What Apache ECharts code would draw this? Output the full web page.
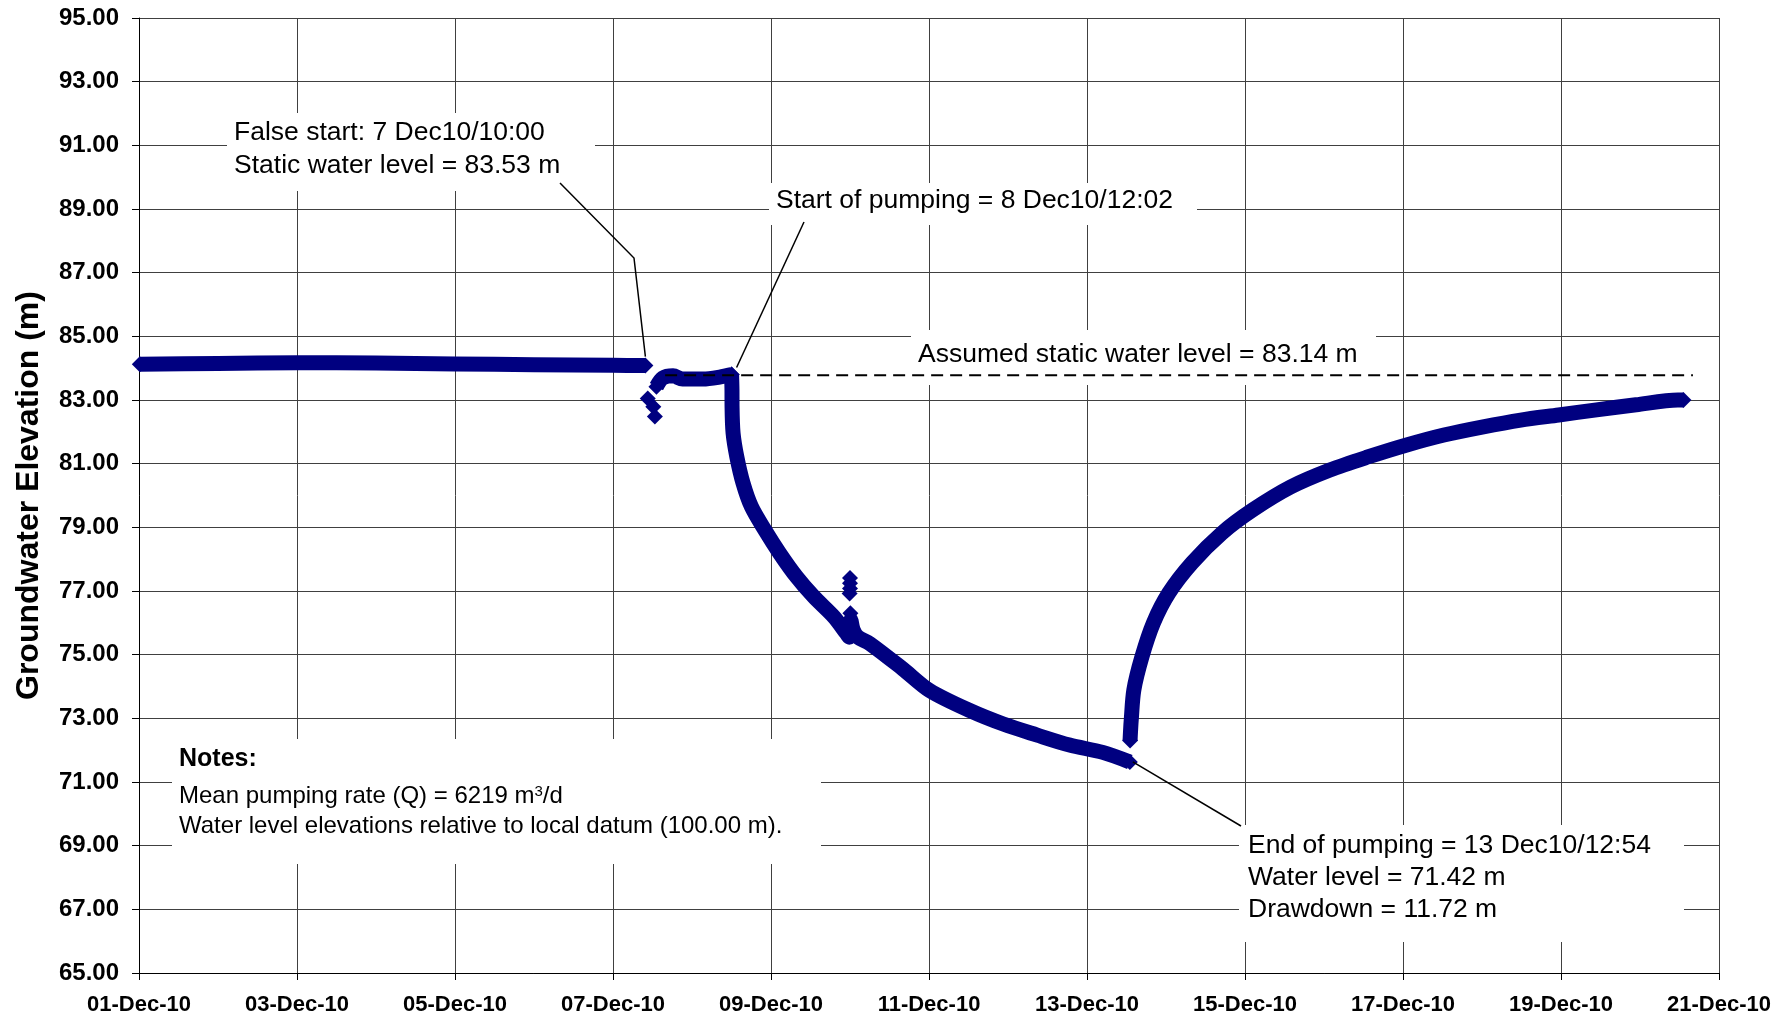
<!DOCTYPE html>
<html>
<head>
<meta charset="utf-8">
<title>Groundwater elevation - pumping test</title>
<script src="https://cdn.jsdelivr.net/npm/echarts@6/dist/echarts.min.js"></script>
<style>
  html, body { margin: 0; padding: 0; background: #fff; }
  #chart { width: 1791px; height: 1019px; }
</style>
</head>
<body>
<div id="chart"></div>
<script>
  // x = days since 01-Dec-10 00:00, y = groundwater elevation (m)
  const monthSuffix = '-Dec-10';
  const yRange = [65, 95, 2];
  const xRange = [0, 20, 2];

  // logger readings before the test
  const preTest = [
    [0.01, 84.12], [1, 84.15], [2, 84.17], [3, 84.16], [4, 84.13],
    [5, 84.11], [6, 84.09], [6.41, 84.08]
  ];
  // false start drop
  const falseStartDrop = [[6.44, 83.05], [6.51, 82.79], [6.53, 82.48]];
  // recovery before the real start
  const preRecovery = [
    [6.55, 83.42], [6.63, 83.69], [6.76, 83.76], [6.88, 83.66],
    [7.14, 83.66], [7.35, 83.72], [7.501, 83.8]
  ];
  // pumping period
  const pumping = [
    [7.501, 83.8], [7.504, 83.54], [7.506, 83.32], [7.507, 82.79],
    [7.52, 81.96], [7.567, 81.22], [7.646, 80.39], [7.752, 79.65],
    [7.921, 78.92], [8.111, 78.18], [8.322, 77.45], [8.541, 76.82],
    [8.795, 76.19], [8.955, 75.67], [8.99, 75.55], [9.01, 76.09],
    [9.04, 75.78], [9.1, 75.55], [9.25, 75.35], [9.67, 74.55],
    [10.01, 73.87], [10.52, 73.24], [10.94, 72.82], [11.36, 72.48],
    [11.78, 72.16], [12.2, 71.93], [12.542, 71.63]
  ];
  const pumpingSpikes = [[9.0, 77.41], [9.0, 77.24], [9.0, 77.08], [8.995, 76.92], [9.005, 76.3]];
  // recovery after pumping stopped
  const recovery = [
    [12.545, 72.3], [12.55, 72.55], [12.56, 72.95], [12.593, 73.89],
    [12.695, 74.93], [12.841, 76.0], [13.037, 76.94], [13.328, 77.88],
    [13.708, 78.82], [14.1, 79.55], [14.58, 80.27], [15.074, 80.8],
    [15.555, 81.21], [16.036, 81.58], [16.518, 81.9], [17.0, 82.15],
    [17.49, 82.37], [17.97, 82.53], [18.45, 82.69], [18.95, 82.85],
    [19.48, 83.0], [19.55, 83.0]
  ];
  const staticLine = [[6.66, 83.78], [19.67, 83.78]];

  const navy = '#000080';
  const font = '"Liberation Sans", Arial, sans-serif';

  // thick band of logger points; diamonds only at the ends of each run
  function band(name, data) {
    const last = data.length - 1;
    return {
      name: name,
      type: 'line',
      data: data,
      smooth: 0.3,
      symbol: 'diamond',
      symbolSize: (v, p) => (p.dataIndex === 0 || p.dataIndex === last ? 16 : 0),
      showAllSymbol: true,
      itemStyle: { color: navy },
      lineStyle: { color: navy, width: 15, cap: 'butt', join: 'round' },
      z: 3
    };
  }
  function dots(name, data) {
    return {
      name: name,
      type: 'scatter',
      data: data,
      symbol: 'diamond',
      symbolSize: 16,
      itemStyle: { color: navy, opacity: 1 },
      z: 3
    };
  }

  const chart = echarts.init(document.getElementById('chart'));

  const option = {
    animation: false,
    backgroundColor: '#fff',
    grid: { left: 139, right: 72, top: 18, bottom: 46 },
    xAxis: {
      type: 'value',
      min: xRange[0],
      max: xRange[1],
      interval: xRange[2],
      axisLine: { lineStyle: { color: '#000', width: 1 } },
      axisTick: { show: true, length: 7, lineStyle: { color: '#000' } },
      axisLabel: {
        margin: 21,
        color: '#000',
        fontFamily: font,
        fontWeight: 'bold',
        fontSize: 22,
        formatter: (v) => String(v + 1).padStart(2, '0') + monthSuffix
      },
      splitLine: { show: true, lineStyle: { color: '#404040', width: 1 } }
    },
    yAxis: {
      type: 'value',
      min: yRange[0],
      max: yRange[1],
      interval: yRange[2],
      name: 'Groundwater Elevation (m)',
      nameLocation: 'middle',
      nameGap: 94,
      nameTextStyle: { color: '#000', fontFamily: font, fontWeight: 'bold', fontSize: 32 },
      axisLine: { show: true, lineStyle: { color: '#000', width: 1 } },
      axisTick: { show: true, length: 7, lineStyle: { color: '#000' } },
      axisLabel: {
        margin: 20,
        color: '#000',
        fontFamily: font,
        fontWeight: 'bold',
        fontSize: 24,
        formatter: (v) => v.toFixed(2)
      },
      splitLine: { show: true, lineStyle: { color: '#404040', width: 1 } }
    },
    series: [
      band('preTest', preTest),
      dots('falseStartDrop', falseStartDrop),
      band('preRecovery', preRecovery),
      band('pumping', pumping),
      dots('pumpingSpikes', pumpingSpikes),
      band('recovery', recovery),
      {
        name: 'static',
        type: 'line',
        data: staticLine,
        symbol: 'none',
        lineStyle: { color: '#000', width: 2, type: [12, 7] },
        z: 4
      }
    ]
  };
  chart.setOption(option);

  // annotation boxes and leader lines
  const px = (pt) => chart.convertToPixel({ gridIndex: 0 }, pt);
  const falseEnd = px(preTest[preTest.length - 1]);
  const pumpStart = px(pumping[0]);
  const pumpEnd = px(pumping[pumping.length - 1]);

  const box = (x, y, w, h) => ({
    type: 'rect', z: 1, shape: { x: x, y: y, width: w, height: h },
    style: { fill: '#fff' }
  });
  const txt = (x, y, s, size, weight) => ({
    type: 'text', z: 10, x: x, y: y,
    style: {
      text: s, fill: '#000', fontFamily: font, fontSize: size,
      fontWeight: weight || 'normal', verticalAlign: 'middle'
    }
  });
  const leader = (points) => ({
    type: 'polyline', z: 10, shape: { points: points },
    style: { stroke: '#000', lineWidth: 1.5, fill: null }
  });

  chart.setOption({
    graphic: [
      box(227, 113, 368, 78),
      txt(234, 133, 'False start: 7 Dec10/10:00', 26.5),
      txt(234, 166, 'Static water level = 83.53 m', 26.5),
      leader([[560, 183], [634, 258], [falseEnd[0], falseEnd[1] - 9]]),

      box(769, 183, 428, 42),
      txt(776, 201, 'Start of pumping = 8 Dec10/12:02', 26.5),
      leader([[804, 222], [pumpStart[0] + 5, pumpStart[1] - 7]]),

      box(911, 330, 465, 55),
      txt(918, 355, 'Assumed static water level = 83.14 m', 26.5),

      box(1239, 825, 445, 117),
      txt(1248, 846, 'End of pumping = 13 Dec10/12:54', 26.5),
      txt(1248, 878, 'Water level = 71.42 m', 26.5),
      txt(1248, 910, 'Drawdown = 11.72 m', 26.5),
      leader([[1241, 826], [pumpEnd[0] + 3, pumpEnd[1]]]),

      box(172, 739, 649, 125),
      txt(179, 759, 'Notes:', 25, 'bold'),
      {
        type: 'text', z: 10, x: 179, y: 796,
        style: {
          text: '{a|Mean pumping rate (Q) = 6219 m}{b|3}{a|/d}',
          fill: '#000', verticalAlign: 'middle',
          rich: {
            a: { fontFamily: font, fontSize: 24, fill: '#000' },
            b: { fontFamily: font, fontSize: 15, fill: '#000', verticalAlign: 'top' }
          }
        }
      },
      txt(179, 826, 'Water level elevations relative to local datum (100.00 m).', 24)
    ]
  });
</script>
</body>
</html>
